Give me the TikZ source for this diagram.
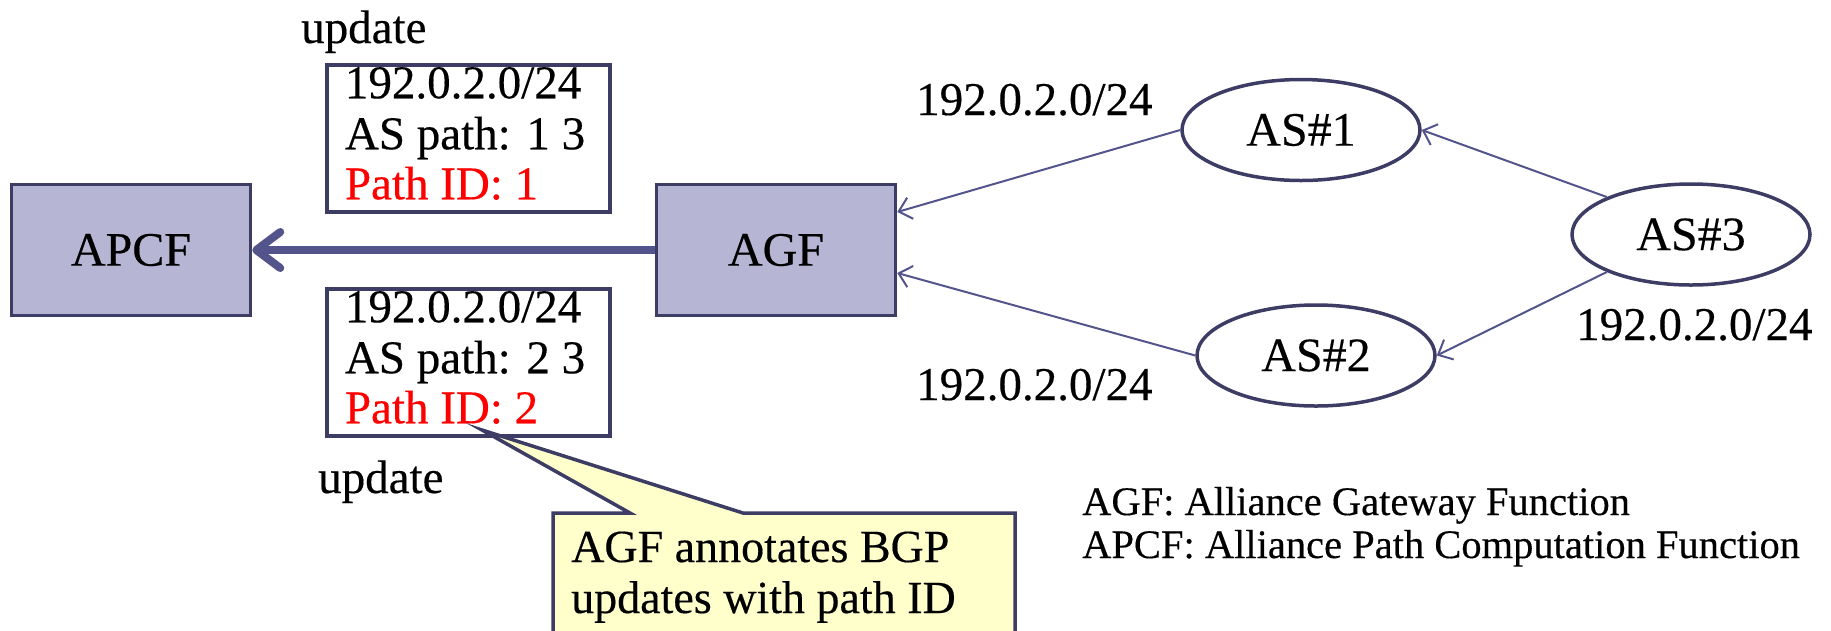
\documentclass[tikz,border=0pt]{standalone}
\usepackage{fontspec}
\setmainfont[FakeBold=0.35]{Liberation Serif}
\usetikzlibrary{arrows.meta,shapes.geometric}
\definecolor{boxfill}{RGB}{182,182,212}
\definecolor{navy}{RGB}{60,60,100}
\definecolor{flow}{RGB}{84,84,140}
\definecolor{note}{RGB}{255,255,204}
\definecolor{idred}{RGB}{255,0,0}

\begin{document}
\begin{tikzpicture}[x=1pt,y=-1pt,
  func/.style={draw=navy, line width=3.5pt, fill=boxfill, minimum width=239pt,
    minimum height=131pt, inner sep=0pt, font=\fontsize{48}{52}\selectfont},
  asnode/.style={ellipse, draw=navy, line width=3.5pt, fill=white, minimum width=238pt,
    minimum height=101pt, inner sep=0pt, font=\fontsize{48}{52}\selectfont},
  msg/.style={draw=navy, line width=3.5pt, fill=white, minimum width=283pt,
    minimum height=147pt, inner sep=0pt},
  txt/.style={inner sep=0pt, font=\fontsize{47}{50}\selectfont, anchor=base west},
  idtxt/.style={txt, text=idred},
  legend/.style={inner sep=0pt, font=\fontsize{40.5}{43}\selectfont, anchor=base west},
  route/.style={draw=flow, line width=2pt, -{Straight Barb[length=12pt,width=22pt]}},
  main/.style={draw=flow, line width=8pt,
    -{Straight Barb[length=24pt,width=36pt,line cap=round,line join=round]}},
]
\useasboundingbox (0,0) rectangle (1831,630);

% functions
\node[func] (apcf) at (131,250) {APCF};
\node[func] (agf)  at (776,250) {AGF};

% autonomous systems
\node[asnode] (as1) at (1301,130)   {AS\#1};
\node[asnode] (as2) at (1316,355.5) {AS\#2};
\node[asnode] (as3) at (1691,234.5) {AS\#3};

% route propagation
\draw[route] (as3.156) -- (as1.east);
\draw[route] (as3.204) -- (as2.east);
\draw[route] (as1.west) -- ([yshift=38pt]agf.east);
\draw[route] (as2.west) -- ([yshift=-23pt]agf.east);

\node[txt] (p1) at (916,115)  {192.0.2.0/24};
\node[txt] (p2) at (916,400)  {192.0.2.0/24};
\node[txt] (p3) at (1576,340) {192.0.2.0/24};

% updates sent to the APCF
\draw[main] (agf.west) -- (apcf.east);

\node[txt] (u1) at (301,43) {update};
\node[msg] (m1) at (468.5,138.5) {};
\node[txt]   (m1a) at ([shift={(19.5,35)}]m1.north west) {192.0.2.0/24};
\node[txt]   (m1b) at ([shift={(19.5,86)}]m1.north west) {AS path: 1 3};
\node[idtxt] (m1c) at ([shift={(19.5,136)}]m1.north west) {Path ID: 1};

\node[msg] (m2) at (468.5,362.5) {};
\node[txt]   (m2a) at ([shift={(19.5,35)}]m2.north west) {192.0.2.0/24};
\node[txt]   (m2b) at ([shift={(19.5,86)}]m2.north west) {AS path: 2 3};
\node[idtxt] (m2c) at ([shift={(19.5,136)}]m2.north west) {Path ID: 2};
\node[txt] (u2) at (318,493) {update};

% callout
\coordinate (tip) at (482,430);
\draw[navy, line width=3.5pt, fill=note, line join=miter]
  (553,650) -- (553,513) -- (630,513) -- (tip) -- (743,513) -- (1015,513) -- (1015,650);
\node[txt, font=\fontsize{46}{50}\selectfont] (c1) at (571,562) {AGF annotates BGP};
\node[txt, font=\fontsize{46}{50}\selectfont] (c2) at (571,613) {updates with path ID};

% legend
\node[legend] (l1) at (1082,515) {AGF: Alliance Gateway Function};
\node[legend] (l2) at (1082,558) {APCF: Alliance Path Computation Function};
\end{tikzpicture}
\end{document}
